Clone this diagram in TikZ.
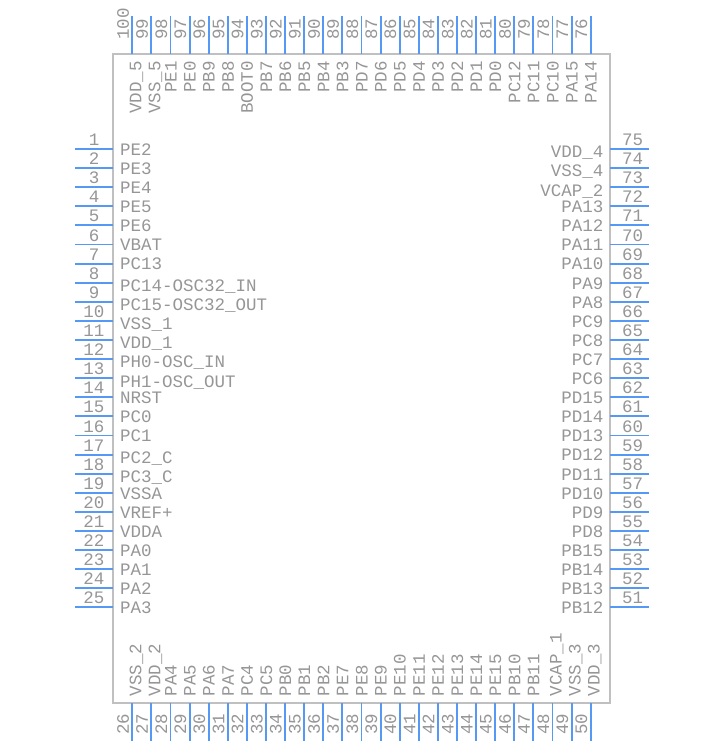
\documentclass[tikz,border=0pt]{standalone}
\usepackage{fontspec}
\setmainfont{Liberation Mono}
\definecolor{pinblue}{HTML}{5599F5}
\definecolor{chipgray}{HTML}{C0C0C0}
\definecolor{textgray}{HTML}{969696}
\tikzset{
  pinline/.style={draw=pinblue, line width=1.9pt},
  chipbox/.style={draw=chipgray, line width=1.8pt, minimum width=497pt, minimum height=649pt, inner sep=0pt},
  pintext/.style={text=textgray, font=\fontsize{17.5}{19}\selectfont, inner sep=0pt},
}
\begin{document}
\begin{tikzpicture}[x=1pt, y=-1pt]
\useasboundingbox (0, 0) rectangle (710, 750);

\node[chipbox] (chip) at (361.5, 378.5) {};

% left side, 1 to 25
\foreach \name/\off [count=\i, evaluate=\i as \py using {149+19.1*(\i-1)}] in {PE2/0, PE3/0, PE4/0, PE5/0, PE6/0, VBAT/0, PC13/0, PC14-OSC32\_IN/2.5, PC15-OSC32\_OUT/2.5, VSS\_1/2.5, VDD\_1/2.5, PH0-OSC\_IN/2.5, PH1-OSC\_OUT/2.5, NRST/0, PC0/0, PC1/0, PC2\_C/2.5, PC3\_C/2.5, VSSA/0, VREF+/0, VDDA/0, PA0/0, PA1/0, PA2/0, PA3/0} {
  \coordinate (L\i a) at (75, \py);
  \coordinate (L\i b) at (113, \py);
  \draw[pinline] (L\i a)--(L\i b);
  \node[pintext, anchor=base] (Lnum\i) at (94, \py-3.5) {\i};
  \node[pintext, anchor=base west] (Lname\i) at (120, \py+6.3+\off) {\name};
}

% bottom side, 26 to 50
\foreach \name/\off [count=\i, evaluate=\i as \px using {132.3+19.1*(\i-1)}, evaluate=\i as \num using {int(25+\i)}] in {VSS\_2/3, VDD\_2/3, PA4/0, PA5/0, PA6/0, PA7/0, PC4/0, PC5/0, PB0/0, PB1/0, PB2/0, PE7/0, PE8/0, PE9/0, PE10/0, PE11/0, PE12/0, PE13/0, PE14/0, PE15/0, PB10/0, PB11/0, VCAP\_1/3, VSS\_3/3, VDD\_3/3} {
  \coordinate (B\i a) at (\px, 703);
  \coordinate (B\i b) at (\px, 741);
  \draw[pinline] (B\i a)--(B\i b);
  \node[pintext, rotate=90, anchor=base west] (Bnum\i) at (\px-3.5, 735) {\num};
  \node[pintext, rotate=90, anchor=base west] (Bname\i) at (\px+6+\off, 696.5) {\name};
}

% right side, 75 down to 51
\foreach \name/\off [count=\i, evaluate=\i as \py using {149+19.1*(\i-1)}, evaluate=\i as \num using {int(76-\i)}] in {VDD\_4/2.5, VSS\_4/2.5, VCAP\_2/2.5, PA13/0, PA12/0, PA11/0, PA10/0, PA9/0, PA8/0, PC9/0, PC8/0, PC7/0, PC6/0, PD15/0, PD14/0, PD13/0, PD12/0, PD11/0, PD10/0, PD9/0, PD8/0, PB15/0, PB14/0, PB13/0, PB12/0} {
  \coordinate (R\i a) at (610, \py);
  \coordinate (R\i b) at (649, \py);
  \draw[pinline] (R\i a)--(R\i b);
  \node[pintext, anchor=base] (Rnum\i) at (632.5, \py-3.5) {\num};
  \node[pintext, anchor=base east] (Rname\i) at (603.5, \py+6.3+\off) {\name};
}

% top side, 100 down to 76
\foreach \name/\off [count=\i, evaluate=\i as \px using {132.3+19.1*(\i-1)}, evaluate=\i as \num using {int(101-\i)}] in {VDD\_5/3, VSS\_5/3, PE1/0, PE0/0, PB9/0, PB8/0, BOOT0/0, PB7/0, PB6/0, PB5/0, PB4/0, PB3/0, PD7/0, PD6/0, PD5/0, PD4/0, PD3/0, PD2/0, PD1/0, PD0/0, PC12/0, PC11/0, PC10/0, PA15/0, PA14/0} {
  \coordinate (T\i a) at (\px, 16);
  \coordinate (T\i b) at (\px, 54);
  \draw[pinline] (T\i a)--(T\i b);
  \node[pintext, rotate=90, anchor=base west] (Tnum\i) at (\px-3.5, 40) {\num};
  \node[pintext, rotate=90, anchor=base east] (Tname\i) at (\px+6+\off, 61) {\name};
}
\end{tikzpicture}
\end{document}
